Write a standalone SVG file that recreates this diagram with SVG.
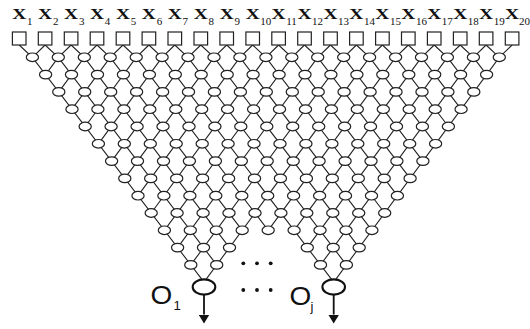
<svg xmlns="http://www.w3.org/2000/svg" xmlns:xlink="http://www.w3.org/1999/xlink" width="530" height="329" viewBox="0 0 530 329">
<style>
.bg{fill:#fff}
.sq{fill:#fff;stroke:#222;stroke-width:1.2}
.ln{fill:none;stroke:#222;stroke-width:1.1}
.nd{fill:#fff;stroke:#222;stroke-width:1.2}
.out{fill:#fff;stroke:#111;stroke-width:2.1}
.arr{stroke:#111;stroke-width:1.8;fill:none}
.xl{font-family:"Liberation Serif","Times New Roman",serif;font-size:15px;font-weight:bold;fill:#111;text-anchor:middle}
.xs{font-family:"Liberation Serif","Times New Roman",serif;font-size:11px;fill:#111}
.ol{font-family:"Liberation Sans",Arial,sans-serif;font-size:25px;fill:#111}
.os{font-family:"Liberation Sans",Arial,sans-serif;font-size:13px;fill:#111}
.dot{fill:#111}
</style>
<defs>
<ellipse id="nd" class="nd" cx="0" cy="0" rx="6.1" ry="4.3"/>
<rect id="sqr" class="sq" x="-6.8" y="32" width="13.6" height="13"/>
<marker id="ah" viewBox="0 0 9 11" refX="0" refY="5.5" markerWidth="9" markerHeight="11" markerUnits="userSpaceOnUse" orient="auto">
<path d="M0,0 L9,5.5 L0,11 z" fill="#111"/>
</marker>
</defs>
<rect class="bg" x="0" y="0" width="530" height="329"/>

<g id="connectors" class="ln">
<path d="M19.2 45L32.4 57.3L204 282.2"/>
<path d="M45.1 45L58.3 57.3L216.7 264.9"/>
<path d="M71.1 45L84.3 57.3L229.5 247.6"/>
<path d="M97 45L110.2 57.3L242.2 230.3"/>
<path d="M123 45L136.2 57.3L268.2 230.3"/>
<path d="M148.9 45L162.1 57.3L333.7 282.2"/>
<path d="M174.8 45L188 57.3L346.4 264.9"/>
<path d="M200.8 45L214 57.3L359.2 247.6"/>
<path d="M226.7 45L239.9 57.3L371.9 230.3"/>
<path d="M252.7 45L265.9 57.3L384.7 213"/>
<path d="M278.6 45L291.8 57.3L397.4 195.7"/>
<path d="M304.5 45L317.7 57.3L410.1 178.4"/>
<path d="M330.5 45L343.7 57.3L422.9 161.1"/>
<path d="M356.4 45L369.6 57.3L435.6 143.8"/>
<path d="M382.4 45L395.6 57.3L448.4 126.5"/>
<path d="M408.3 45L421.5 57.3L461.1 109.2"/>
<path d="M434.2 45L447.4 57.3L473.8 91.9"/>
<path d="M460.2 45L473.4 57.3L486.6 74.6"/>
<path d="M486.1 45L499.3 57.3"/>
<path d="M45.1 45L32.4 57.3"/>
<path d="M71.1 45L58.3 57.3L45.6 74.6"/>
<path d="M97 45L84.3 57.3L58.8 91.9"/>
<path d="M123 45L110.2 57.3L72 109.2"/>
<path d="M148.9 45L136.2 57.3L85.2 126.5"/>
<path d="M174.8 45L162.1 57.3L98.4 143.8"/>
<path d="M200.8 45L188 57.3L111.6 161.1"/>
<path d="M226.7 45L214 57.3L124.8 178.4"/>
<path d="M252.7 45L239.9 57.3L138 195.7"/>
<path d="M278.6 45L265.9 57.3L151.2 213"/>
<path d="M304.5 45L291.8 57.3L164.4 230.3"/>
<path d="M330.5 45L317.7 57.3L177.6 247.6"/>
<path d="M356.4 45L343.7 57.3L190.8 264.9"/>
<path d="M382.4 45L369.6 57.3L204 282.2"/>
<path d="M408.3 45L395.6 57.3L268.2 230.3"/>
<path d="M434.2 45L421.5 57.3L294.1 230.3"/>
<path d="M460.2 45L447.4 57.3L307.3 247.6"/>
<path d="M486.1 45L473.4 57.3L320.5 264.9"/>
<path d="M512.1 45L499.3 57.3L333.7 282.2"/>
<line class="arr" x1="204" y1="294.5" x2="204" y2="314.5" marker-end="url(#ah)"/>
<line class="arr" x1="333.7" y1="294.5" x2="333.7" y2="314.5" marker-end="url(#ah)"/>
</g>

<g id="inputs">
<g id="x1"><use href="#sqr" x="19.2"/><text class="xl" transform="translate(19.2,19) scale(1.3,1)">X</text><text class="xs" x="27" y="25">1</text></g>
<g id="x2"><use href="#sqr" x="45.1"/><text class="xl" transform="translate(45.1,19) scale(1.3,1)">X</text><text class="xs" x="52.9" y="25">2</text></g>
<g id="x3"><use href="#sqr" x="71.1"/><text class="xl" transform="translate(71.1,19) scale(1.3,1)">X</text><text class="xs" x="78.9" y="25">3</text></g>
<g id="x4"><use href="#sqr" x="97"/><text class="xl" transform="translate(97,19) scale(1.3,1)">X</text><text class="xs" x="104.8" y="25">4</text></g>
<g id="x5"><use href="#sqr" x="123"/><text class="xl" transform="translate(123,19) scale(1.3,1)">X</text><text class="xs" x="130.8" y="25">5</text></g>
<g id="x6"><use href="#sqr" x="148.9"/><text class="xl" transform="translate(148.9,19) scale(1.3,1)">X</text><text class="xs" x="156.7" y="25">6</text></g>
<g id="x7"><use href="#sqr" x="174.8"/><text class="xl" transform="translate(174.8,19) scale(1.3,1)">X</text><text class="xs" x="182.6" y="25">7</text></g>
<g id="x8"><use href="#sqr" x="200.8"/><text class="xl" transform="translate(200.8,19) scale(1.3,1)">X</text><text class="xs" x="208.6" y="25">8</text></g>
<g id="x9"><use href="#sqr" x="226.7"/><text class="xl" transform="translate(226.7,19) scale(1.3,1)">X</text><text class="xs" x="234.5" y="25">9</text></g>
<g id="x10"><use href="#sqr" x="252.7"/><text class="xl" transform="translate(252.7,19) scale(1.3,1)">X</text><text class="xs" x="260.3" y="25">10</text></g>
<g id="x11"><use href="#sqr" x="278.6"/><text class="xl" transform="translate(278.6,19) scale(1.3,1)">X</text><text class="xs" x="286.2" y="25">11</text></g>
<g id="x12"><use href="#sqr" x="304.5"/><text class="xl" transform="translate(304.5,19) scale(1.3,1)">X</text><text class="xs" x="312.1" y="25">12</text></g>
<g id="x13"><use href="#sqr" x="330.5"/><text class="xl" transform="translate(330.5,19) scale(1.3,1)">X</text><text class="xs" x="338.1" y="25">13</text></g>
<g id="x14"><use href="#sqr" x="356.4"/><text class="xl" transform="translate(356.4,19) scale(1.3,1)">X</text><text class="xs" x="364" y="25">14</text></g>
<g id="x15"><use href="#sqr" x="382.4"/><text class="xl" transform="translate(382.4,19) scale(1.3,1)">X</text><text class="xs" x="390" y="25">15</text></g>
<g id="x16"><use href="#sqr" x="408.3"/><text class="xl" transform="translate(408.3,19) scale(1.3,1)">X</text><text class="xs" x="415.9" y="25">16</text></g>
<g id="x17"><use href="#sqr" x="434.2"/><text class="xl" transform="translate(434.2,19) scale(1.3,1)">X</text><text class="xs" x="441.8" y="25">17</text></g>
<g id="x18"><use href="#sqr" x="460.2"/><text class="xl" transform="translate(460.2,19) scale(1.3,1)">X</text><text class="xs" x="467.8" y="25">18</text></g>
<g id="x19"><use href="#sqr" x="486.1"/><text class="xl" transform="translate(486.1,19) scale(1.3,1)">X</text><text class="xs" x="493.7" y="25">19</text></g>
<g id="x20"><use href="#sqr" x="512.1"/><text class="xl" transform="translate(512.1,19) scale(1.3,1)">X</text><text class="xs" x="519" y="25">20</text></g>
</g>

<g id="nodes">
<g id="row1" transform="translate(0,57.3)">
<use id="n1-1" href="#nd" x="32.4"/><use id="n1-2" href="#nd" x="58.3"/><use id="n1-3" href="#nd" x="84.3"/><use id="n1-4" href="#nd" x="110.2"/><use id="n1-5" href="#nd" x="136.2"/><use id="n1-6" href="#nd" x="162.1"/><use id="n1-7" href="#nd" x="188"/><use id="n1-8" href="#nd" x="214"/><use id="n1-9" href="#nd" x="239.9"/><use id="n1-10" href="#nd" x="265.9"/><use id="n1-11" href="#nd" x="291.8"/><use id="n1-12" href="#nd" x="317.7"/><use id="n1-13" href="#nd" x="343.7"/><use id="n1-14" href="#nd" x="369.6"/><use id="n1-15" href="#nd" x="395.6"/><use id="n1-16" href="#nd" x="421.5"/><use id="n1-17" href="#nd" x="447.4"/><use id="n1-18" href="#nd" x="473.4"/><use id="n1-19" href="#nd" x="499.3"/>
</g>
<g id="row2" transform="translate(0,74.6)">
<use id="n2-1" href="#nd" x="45.6"/><use id="n2-2" href="#nd" x="71.5"/><use id="n2-3" href="#nd" x="97.5"/><use id="n2-4" href="#nd" x="123.4"/><use id="n2-5" href="#nd" x="149.4"/><use id="n2-6" href="#nd" x="175.3"/><use id="n2-7" href="#nd" x="201.2"/><use id="n2-8" href="#nd" x="227.2"/><use id="n2-9" href="#nd" x="253.1"/><use id="n2-10" href="#nd" x="279.1"/><use id="n2-11" href="#nd" x="305"/><use id="n2-12" href="#nd" x="330.9"/><use id="n2-13" href="#nd" x="356.9"/><use id="n2-14" href="#nd" x="382.8"/><use id="n2-15" href="#nd" x="408.8"/><use id="n2-16" href="#nd" x="434.7"/><use id="n2-17" href="#nd" x="460.6"/><use id="n2-18" href="#nd" x="486.6"/>
</g>
<g id="row3" transform="translate(0,91.9)">
<use id="n3-1" href="#nd" x="58.8"/><use id="n3-2" href="#nd" x="84.7"/><use id="n3-3" href="#nd" x="110.7"/><use id="n3-4" href="#nd" x="136.6"/><use id="n3-5" href="#nd" x="162.6"/><use id="n3-6" href="#nd" x="188.5"/><use id="n3-7" href="#nd" x="214.4"/><use id="n3-8" href="#nd" x="240.4"/><use id="n3-9" href="#nd" x="266.3"/><use id="n3-10" href="#nd" x="292.3"/><use id="n3-11" href="#nd" x="318.2"/><use id="n3-12" href="#nd" x="344.1"/><use id="n3-13" href="#nd" x="370.1"/><use id="n3-14" href="#nd" x="396"/><use id="n3-15" href="#nd" x="422"/><use id="n3-16" href="#nd" x="447.9"/><use id="n3-17" href="#nd" x="473.8"/>
</g>
<g id="row4" transform="translate(0,109.2)">
<use id="n4-1" href="#nd" x="72"/><use id="n4-2" href="#nd" x="97.9"/><use id="n4-3" href="#nd" x="123.9"/><use id="n4-4" href="#nd" x="149.8"/><use id="n4-5" href="#nd" x="175.8"/><use id="n4-6" href="#nd" x="201.7"/><use id="n4-7" href="#nd" x="227.6"/><use id="n4-8" href="#nd" x="253.6"/><use id="n4-9" href="#nd" x="279.5"/><use id="n4-10" href="#nd" x="305.5"/><use id="n4-11" href="#nd" x="331.4"/><use id="n4-12" href="#nd" x="357.3"/><use id="n4-13" href="#nd" x="383.3"/><use id="n4-14" href="#nd" x="409.2"/><use id="n4-15" href="#nd" x="435.2"/><use id="n4-16" href="#nd" x="461.1"/>
</g>
<g id="row5" transform="translate(0,126.5)">
<use id="n5-1" href="#nd" x="85.2"/><use id="n5-2" href="#nd" x="111.1"/><use id="n5-3" href="#nd" x="137.1"/><use id="n5-4" href="#nd" x="163"/><use id="n5-5" href="#nd" x="189"/><use id="n5-6" href="#nd" x="214.9"/><use id="n5-7" href="#nd" x="240.8"/><use id="n5-8" href="#nd" x="266.8"/><use id="n5-9" href="#nd" x="292.7"/><use id="n5-10" href="#nd" x="318.7"/><use id="n5-11" href="#nd" x="344.6"/><use id="n5-12" href="#nd" x="370.5"/><use id="n5-13" href="#nd" x="396.5"/><use id="n5-14" href="#nd" x="422.4"/><use id="n5-15" href="#nd" x="448.4"/>
</g>
<g id="row6" transform="translate(0,143.8)">
<use id="n6-1" href="#nd" x="98.4"/><use id="n6-2" href="#nd" x="124.3"/><use id="n6-3" href="#nd" x="150.3"/><use id="n6-4" href="#nd" x="176.2"/><use id="n6-5" href="#nd" x="202.2"/><use id="n6-6" href="#nd" x="228.1"/><use id="n6-7" href="#nd" x="254"/><use id="n6-8" href="#nd" x="280"/><use id="n6-9" href="#nd" x="305.9"/><use id="n6-10" href="#nd" x="331.9"/><use id="n6-11" href="#nd" x="357.8"/><use id="n6-12" href="#nd" x="383.7"/><use id="n6-13" href="#nd" x="409.7"/><use id="n6-14" href="#nd" x="435.6"/>
</g>
<g id="row7" transform="translate(0,161.1)">
<use id="n7-1" href="#nd" x="111.6"/><use id="n7-2" href="#nd" x="137.5"/><use id="n7-3" href="#nd" x="163.5"/><use id="n7-4" href="#nd" x="189.4"/><use id="n7-5" href="#nd" x="215.4"/><use id="n7-6" href="#nd" x="241.3"/><use id="n7-7" href="#nd" x="267.2"/><use id="n7-8" href="#nd" x="293.2"/><use id="n7-9" href="#nd" x="319.1"/><use id="n7-10" href="#nd" x="345.1"/><use id="n7-11" href="#nd" x="371"/><use id="n7-12" href="#nd" x="396.9"/><use id="n7-13" href="#nd" x="422.9"/>
</g>
<g id="row8" transform="translate(0,178.4)">
<use id="n8-1" href="#nd" x="124.8"/><use id="n8-2" href="#nd" x="150.7"/><use id="n8-3" href="#nd" x="176.7"/><use id="n8-4" href="#nd" x="202.6"/><use id="n8-5" href="#nd" x="228.6"/><use id="n8-6" href="#nd" x="254.5"/><use id="n8-7" href="#nd" x="280.4"/><use id="n8-8" href="#nd" x="306.4"/><use id="n8-9" href="#nd" x="332.3"/><use id="n8-10" href="#nd" x="358.3"/><use id="n8-11" href="#nd" x="384.2"/><use id="n8-12" href="#nd" x="410.1"/>
</g>
<g id="row9" transform="translate(0,195.7)">
<use id="n9-1" href="#nd" x="138"/><use id="n9-2" href="#nd" x="163.9"/><use id="n9-3" href="#nd" x="189.9"/><use id="n9-4" href="#nd" x="215.8"/><use id="n9-5" href="#nd" x="241.8"/><use id="n9-6" href="#nd" x="267.7"/><use id="n9-7" href="#nd" x="293.6"/><use id="n9-8" href="#nd" x="319.6"/><use id="n9-9" href="#nd" x="345.5"/><use id="n9-10" href="#nd" x="371.5"/><use id="n9-11" href="#nd" x="397.4"/>
</g>
<g id="row10" transform="translate(0,213)">
<use id="n10-1" href="#nd" x="151.2"/><use id="n10-2" href="#nd" x="177.1"/><use id="n10-3" href="#nd" x="203.1"/><use id="n10-4" href="#nd" x="229"/><use id="n10-5" href="#nd" x="255"/><use id="n10-6" href="#nd" x="280.9"/><use id="n10-7" href="#nd" x="306.8"/><use id="n10-8" href="#nd" x="332.8"/><use id="n10-9" href="#nd" x="358.7"/><use id="n10-10" href="#nd" x="384.7"/>
</g>
<g id="row11" transform="translate(0,230.3)">
<use id="n11-1" href="#nd" x="164.4"/><use id="n11-2" href="#nd" x="190.3"/><use id="n11-3" href="#nd" x="216.3"/><use id="n11-4" href="#nd" x="242.2"/><use id="n11-5" href="#nd" x="268.2"/><use id="n11-6" href="#nd" x="294.1"/><use id="n11-7" href="#nd" x="320"/><use id="n11-8" href="#nd" x="346"/><use id="n11-9" href="#nd" x="371.9"/>
</g>
<g id="row12" transform="translate(0,247.6)">
<use id="n12-1" href="#nd" x="177.6"/><use id="n12-2" href="#nd" x="203.5"/><use id="n12-3" href="#nd" x="229.5"/><use id="n12-6" href="#nd" x="307.3"/><use id="n12-7" href="#nd" x="333.2"/><use id="n12-8" href="#nd" x="359.2"/>
</g>
<g id="row13" transform="translate(0,264.9)">
<use id="n13-1" href="#nd" x="190.8"/><use id="n13-2" href="#nd" x="216.7"/><use id="n13-6" href="#nd" x="320.5"/><use id="n13-7" href="#nd" x="346.4"/>
</g>
</g>

<g id="out1">
<ellipse class="out" cx="204" cy="287" rx="11.3" ry="7.6"/>
<text class="ol" transform="translate(150.5,303.5) scale(1.12,1)">O</text><text class="os" x="173.5" y="310">1</text>
</g>
<g id="outj">
<ellipse class="out" cx="333.7" cy="287" rx="11.3" ry="7.6"/>
<text class="ol" transform="translate(289.5,304.5) scale(1.12,1)">O</text><text class="os" x="310.5" y="311">j</text>
</g>

<g id="ellipsis">
<circle class="dot" cx="243.3" cy="263.3" r="1.9"/><circle class="dot" cx="257" cy="263.3" r="1.9"/><circle class="dot" cx="270.7" cy="263.3" r="1.9"/>
<circle class="dot" cx="243.3" cy="290" r="1.9"/><circle class="dot" cx="257" cy="290" r="1.9"/><circle class="dot" cx="270.7" cy="290" r="1.9"/>
</g>
</svg>
